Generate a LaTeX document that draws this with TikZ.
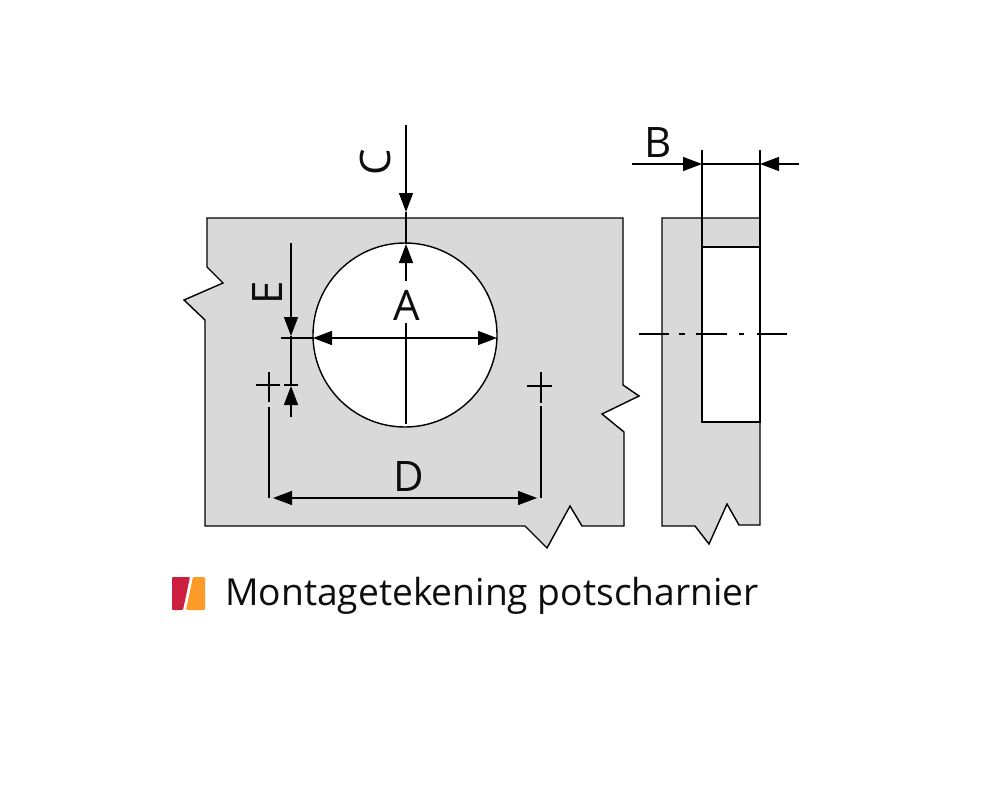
\documentclass[tikz,border=0pt]{standalone}
\usepackage{fontspec}
\setmainfont{Open Sans}
\usetikzlibrary{arrows.meta}
\definecolor{plategray}{HTML}{D9D9D9}
\definecolor{logored}{HTML}{CC1F3F}
\definecolor{logoorange}{HTML}{FD9A28}
\tikzset{
  plate/.style={draw=black, fill=plategray, line width=1.4pt, line join=miter},
  dimline/.style={draw=black, line width=1.3pt},
  dimarrow/.style={dimline, -{Triangle[length=19pt,width=14pt]}},
  dimboth/.style={dimline, {Triangle[length=19pt,width=14pt]}-{Triangle[length=19pt,width=14pt]}},
  letter/.style={font=\fontsize{42}{42}\selectfont, text=black!95, inner sep=0pt},
}
\begin{document}
\begin{tikzpicture}[x=1pt,y=-1pt]
\useasboundingbox (0,0) rectangle (1000,800);
% left plate
\draw[plate] (207,218) -- (207,267) -- (223,283) -- (184,300) -- (205,320) -- (205,526)
  -- (525,526) -- (547,548) -- (570,506) -- (582,526) -- (624,526) -- (624,432)
  -- (602,414) -- (639,396) -- (623,385) -- (623,218) -- cycle;
\draw[plate, fill=white] (405,335) circle (92);
% right plate
\draw[plate] (662,218) -- (760,218) -- (760,525) -- (739,525) -- (727,504) -- (709,544)
  -- (695,526) -- (662,526) -- cycle;
\draw[plate, fill=white] (702,247) rectangle (760,422);
% coordinates
\coordinate (ctop) at (406,125);
\coordinate (cedge) at (406,212);
\coordinate (ctip) at (406,244);
\coordinate (cbase) at (406,281);
\coordinate (clow) at (406,323);
\coordinate (cend) at (406,424);
\coordinate (aleft) at (313,338);
\coordinate (aright) at (497,338);
\coordinate (astub) at (281,338);
\coordinate (etop) at (291,243);
\coordinate (etip) at (291,336);
\coordinate (eup) at (291,386);
\coordinate (ebot) at (291,417);
\coordinate (hl) at (269,372);
\coordinate (hlm) at (269,402);
\coordinate (hln) at (269,407);
\coordinate (dl) at (269,498);
\coordinate (dla) at (273,498);
\coordinate (hr) at (541,372);
\coordinate (hrm) at (541,403);
\coordinate (hrn) at (541,406);
\coordinate (dr) at (541,498);
\coordinate (dra) at (537,498);
\coordinate (bl) at (702,150);
\coordinate (blm) at (702,247);
\coordinate (br) at (760,150);
\coordinate (brm) at (760,247);
\coordinate (bin) at (702,164);
\coordinate (bout) at (632,164);
\coordinate (bin2) at (760,164);
\coordinate (bout2) at (799,164);
% dimensions
\draw[dimarrow] (ctop) -- (cedge);
\draw[dimline] (cedge) -- (ctip);
\draw[dimarrow] (cbase) -- (ctip);
\draw[dimline] (clow) -- (cend);
\draw[dimboth] (aleft) -- (aright);
\draw[dimline] (astub) -- (aleft);
\draw[dimarrow] (etop) -- (etip);
\draw[dimline] (etip) -- (eup);
\draw[dimarrow] (ebot) -- (eup);
\draw[dimline] (284,385) -- (298,385);
\draw[dimline] (256,385) -- (280,385);
\draw[dimline] (hl) -- (hlm);
\draw[dimline] (hln) -- (dl);
\draw[dimline] (527,386) -- (552,386);
\draw[dimline] (hr) -- (hrm);
\draw[dimline] (hrn) -- (dr);
\draw[dimboth] (dla) -- (dra);
\draw[dimline] (bl) -- (blm);
\draw[dimline] (br) -- (brm);
\draw[dimline] (bin) -- (bin2);
\draw[dimarrow] (bout) -- (bin);
\draw[dimarrow] (bout2) -- (bin2);
% centre line
\draw[dimline] (639,334) -- (669,334);
\draw[dimline] (679,334) -- (685,334);
\draw[dimline] (696,334) -- (727,334);
\draw[dimline] (739,334) -- (744,334);
\draw[dimline] (757,334) -- (787,334);
% labels
\node[letter] (labelA) at (407,305) {A};
\node[letter] (labelB) at (658,143) {B};
\node[letter, rotate=90] (labelC) at (375,162) {C};
\node[letter] (labelD) at (409,477) {D};
\node[letter, rotate=90] (labelE) at (268,293) {E};
% logo
\fill[logored, rounded corners=1pt] (172,577) -- (190,577) -- (183,610) -- (172,610) -- cycle;
\fill[logoorange, rounded corners=1pt] (193,577) -- (205,577) -- (205,610) -- (186,610) -- cycle;
\node[anchor=base west, inner sep=0pt, font=\fontsize{37.2}{38}\selectfont, text=black!95] (caption) at (225,605) {Montagetekening potscharnier};
\end{tikzpicture}
\end{document}
